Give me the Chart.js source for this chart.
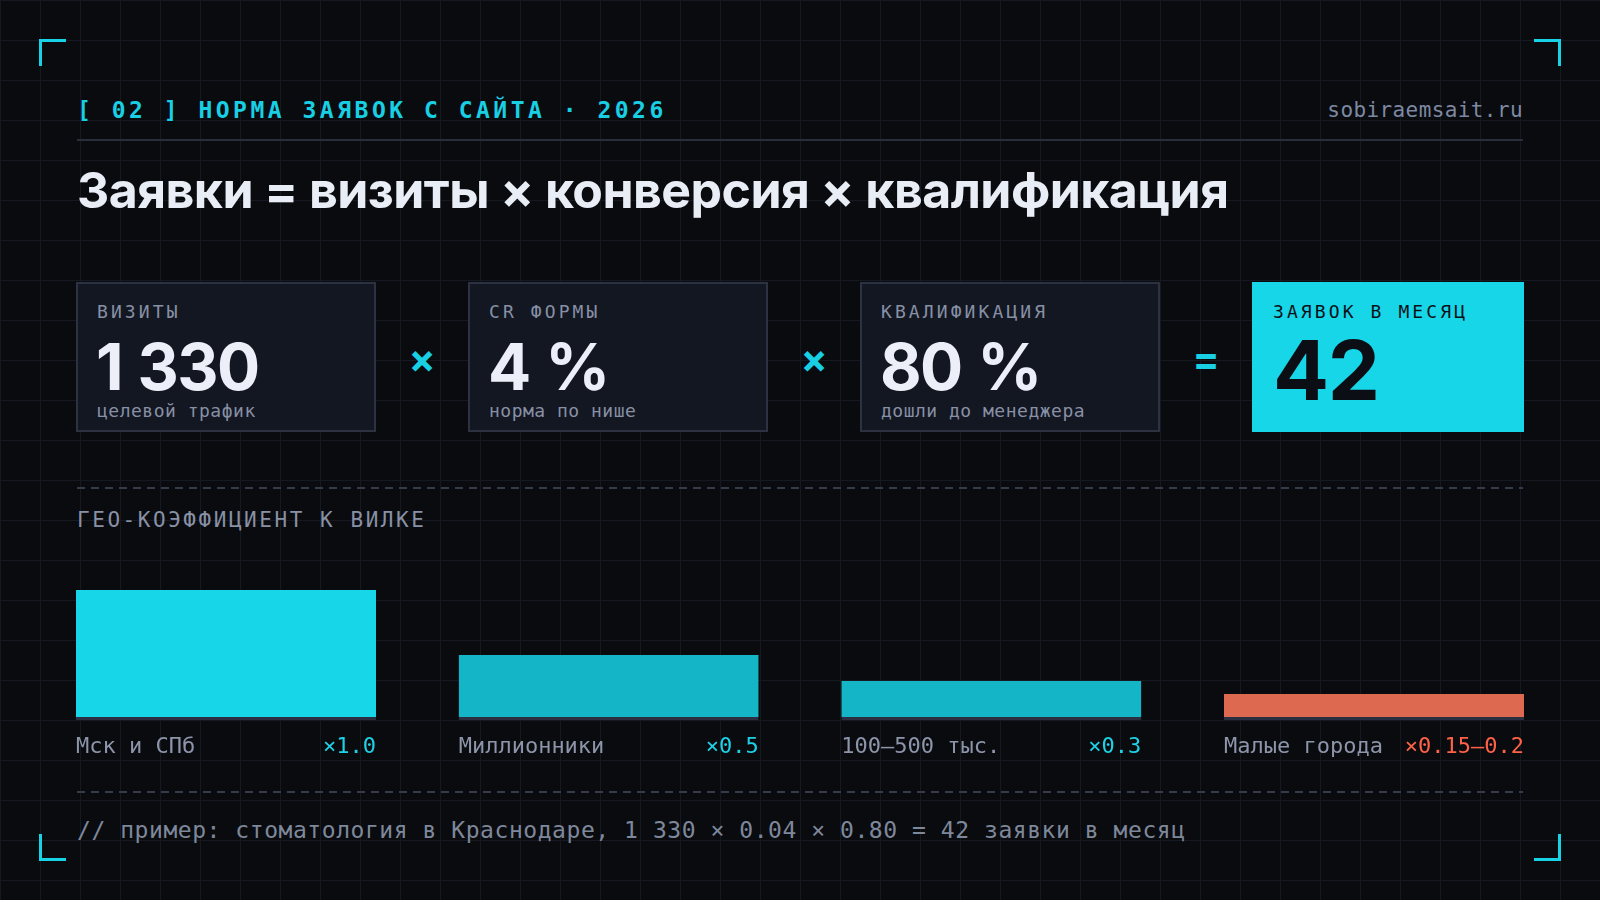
<!DOCTYPE html>
<html lang="ru">
<head>
<meta charset="utf-8">
<title>Норма заявок с сайта</title>
<script src="https://cdn.jsdelivr.net/npm/chart.js@4.4.1/dist/chart.umd.min.js"></script>
<style>
  html, body { margin: 0; padding: 0; }
  body {
    width: 1600px; height: 900px; overflow: hidden; position: relative;
    background-color: #0a0b0f;
    background-image:
      linear-gradient(to bottom, #161822 1px, transparent 1px),
      linear-gradient(to right, #161822 1px, transparent 1px);
    background-size: 40px 40px;
    font-family: "DejaVu Sans Mono", monospace;
  }
  .abs { position: absolute; white-space: pre; }
  .mono { font-family: "DejaVu Sans Mono", monospace; }
  .sans { font-family: Inter, "Noto Sans", sans-serif; }
  .corner { position: absolute; width: 27px; height: 27px; box-sizing: border-box; border: 0 solid #18d3e6; }
  .card { position: absolute; top: 282px; height: 150px; box-sizing: border-box; }
  .card.dark { background: #131722; border: 2px solid #2c3242; }
  .card.hot { background: #17d6e8; }
  .dash { position: absolute; left: 77px; width: 1446px; height: 2px;
    background-image: linear-gradient(to right, #343b4b 0 8px, transparent 8px 14px);
    background-size: 14px 2px; }
  #chartWrap { position: absolute; left: 0; top: 560px; width: 1600px; height: 230px; }
</style>
</head>
<body>
<div class="corner" style="left:39px;top:39px;border-left-width:3px;border-top-width:3px;"></div>
<div class="corner" style="left:1534px;top:39px;border-right-width:3px;border-top-width:3px;"></div>
<div class="corner" style="left:39px;top:834px;border-left-width:3px;border-bottom-width:3px;"></div>
<div class="corner" style="left:1534px;top:834px;border-right-width:3px;border-bottom-width:3px;"></div>

<div class="abs mono" style="left:77px;top:95px;line-height:30px;font-size:23px;font-weight:bold;letter-spacing:3.5px;color:#18cfe4;">[ 02 ] НОРМА ЗАЯВОК С САЙТА · 2026</div>
<div class="abs mono" style="right:77px;top:95px;line-height:30px;font-size:21px;letter-spacing:0.4px;color:#7d89a2;">sobiraemsait.ru</div>
<div class="abs" style="left:77px;top:139px;width:1446px;height:2px;background:#2a2e3b;"></div>

<div class="abs sans" style="left:77px;top:160px;line-height:60px;font-size:50px;font-weight:700;letter-spacing:-0.55px;color:#e9edf6;">Заявки = визиты × конверсия × квалификация</div>

<div id="cards"></div>

<div class="dash" style="top:487px;"></div>
<div class="abs mono" style="left:77px;top:505px;line-height:30px;font-size:21px;letter-spacing:2.55px;color:#8891a5;">ГЕО-КОЭФФИЦИЕНТ К ВИЛКЕ</div>

<div id="chartWrap"><canvas id="geo" width="1600" height="230"></canvas></div>

<div class="dash" style="top:791px;"></div>
<div class="abs mono" style="left:77px;top:815px;line-height:30px;font-size:23px;letter-spacing:0.55px;color:#7e889b;">// пример: стоматология в Краснодаре, 1 330 × 0.04 × 0.80 = 42 заявки в месяц</div>

<script>
// ---- data ----
const metricLabels = ['ВИЗИТЫ', 'CR ФОРМЫ', 'КВАЛИФИКАЦИЯ', 'ЗАЯВОК В МЕСЯЦ'];
const metricValues = ['1 330', '4 %', '80 %', '42'];
const metricNotes = ['целевой трафик', 'норма по нише', 'дошли до менеджера', ''];
const metricOperators = ['×', '×', '='];

const geoCategories = ['Мск и СПб', 'Миллионники', '100–500 тыс.', 'Малые города'];
const geoCoefficients = [1.0, 0.5, 0.3, 0.2];
const geoValueLabels = ['×1.0', '×0.5', '×0.3', '×0.15–0.2'];

// ---- styles ----
const barColors = ['#17d6e8', '#14b5c6', '#14b5c6', '#dd6a50'];
const valueColors = ['#1dd2e6', '#1dd2e6', '#1dd2e6', '#ff6247'];

// ---- cards ----
const cardLefts = [76, 468, 860, 1252];
const cardWidths = [300, 300, 300, 272];
const opCenters = [422, 814, 1206];
const cardsEl = document.getElementById('cards');
metricLabels.forEach((lab, i) => {
  const hot = i === 3;
  const card = document.createElement('div');
  card.className = 'card ' + (hot ? 'hot' : 'dark');
  card.style.left = cardLefts[i] + 'px';
  card.style.width = cardWidths[i] + 'px';
  cardsEl.appendChild(card);
  const x = cardLefts[i] + 21;
  const l = document.createElement('div');
  l.className = 'abs mono';
  l.style.cssText = `left:${x}px;top:${312-15}px;line-height:30px;font-size:18px;letter-spacing:3.1px;color:${hot ? '#0b1016' : '#8790a5'};`;
  l.textContent = lab;
  cardsEl.appendChild(l);
  const v = document.createElement('div');
  v.className = 'abs sans';
  if (hot) {
    v.style.cssText = `left:${x}px;top:${370-50}px;line-height:100px;font-size:83px;font-weight:700;letter-spacing:-1.5px;color:#0b0f15;`;
  } else {
    v.style.cssText = `left:${x-1}px;top:${367-40}px;line-height:80px;font-size:64px;font-weight:700;letter-spacing:-1.6px;word-spacing:2px;color:#eceff7;`;
  }
  v.textContent = metricValues[i];
  cardsEl.appendChild(v);
  if (metricNotes[i]) {
    const n = document.createElement('div');
    n.className = 'abs mono';
    n.style.cssText = `left:${x}px;top:${411-15}px;line-height:30px;font-size:18px;letter-spacing:0.5px;color:#8790a5;`;
    n.textContent = metricNotes[i];
    cardsEl.appendChild(n);
  }
});
metricOperators.forEach((op, i) => {
  const o = document.createElement('div');
  o.className = 'abs sans';
  o.style.cssText = `left:${opCenters[i]-30}px;width:60px;text-align:center;top:${359-30}px;line-height:60px;font-size:40px;font-weight:700;color:#18cfe4;`;
  o.textContent = op;
  cardsEl.appendChild(o);
});

// ---- chart ----
const barLabelsPlugin = {
  id: 'barLabels',
  afterDatasetsDraw(chart) {
    const ctx = chart.ctx;
    const meta = chart.getDatasetMeta(0);
    ctx.save();
    ctx.font = '22px "DejaVu Sans Mono", monospace';
    ctx.textBaseline = 'middle';
    meta.data.forEach((bar, i) => {
      const p = bar.getProps(['x', 'width', 'base'], true);
      const left = p.x - p.width / 2;
      const right = p.x + p.width / 2;
      const y = p.base + 27;
      ctx.textAlign = 'left';
      ctx.fillStyle = '#8c95a9';
      ctx.fillText(chart.data.labels[i], left, y);
      ctx.textAlign = 'right';
      ctx.fillStyle = valueColors[i];
      ctx.fillText(geoValueLabels[i], right, y);
    });
    ctx.restore();
  }
};

new Chart(document.getElementById('geo'), {
  type: 'bar',
  data: {
    labels: geoCategories,
    datasets: [{
      data: geoCoefficients,
      backgroundColor: barColors,
      borderColor: '#2a3042',
      borderWidth: { top: 0, left: 0, right: 0, bottom: 3 },
      borderSkipped: false,
      categoryPercentage: 1,
      barPercentage: 0.784
    }]
  },
  options: {
    responsive: false,
    animation: false,
    devicePixelRatio: 1,
    layout: { padding: { left: 34.67, right: 34.67, top: 30, bottom: 70 } },
    plugins: { legend: { display: false }, tooltip: { enabled: false } },
    scales: {
      x: { display: false, offset: true },
      y: { display: false, min: 0, max: 1 }
    }
  },
  plugins: [barLabelsPlugin]
});
</script>
</body>
</html>
